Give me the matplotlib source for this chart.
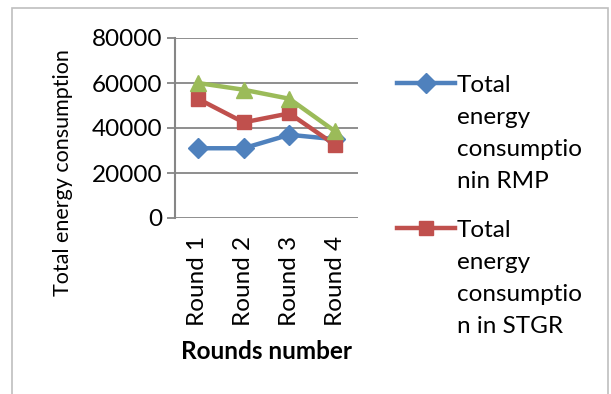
import matplotlib.pyplot as plt
from matplotlib.patches import Rectangle
from matplotlib.lines import Line2D

rounds = ["Round 1", "Round 2", "Round 3", "Round 4"]
rmp = [31000, 31000, 37000, 35000]
stgr = [53000, 42500, 46500, 32500]
third = [60000, 57000, 53000, 38500]
yticks = [0, 20000, 40000, 60000, 80000]
legend_rmp = ["Total", "energy", "consumptio", "nin RMP"]
legend_stgr = ["Total", "energy", "consumptio", "n in STGR"]

plt.rcParams['font.family'] = ['Lato', 'DejaVu Sans']

W, H = 611, 394
fig = plt.figure(figsize=(W / 100, H / 100), dpi=100)
fig.patches.append(Rectangle((12 / W, -0.1), 596 / W, 1.1 - 8 / H,
                             transform=fig.transFigure, fill=False,
                             edgecolor='#bfbfbf', linewidth=1.2))

ax = fig.add_axes([175 / W, 176 / H, 183 / W, 180 / H])
x = range(len(rounds))
ax.plot(x, rmp, color='#4F81BD', lw=3.2, marker='D', ms=10, zorder=3)
ax.plot(x, stgr, color='#C0504D', lw=3.2, marker='s', ms=10, zorder=4)
ax.plot(x, third, color='#9BBB59', lw=3.2, marker='^', ms=11, zorder=5)

ax.set_xlim(-0.5, len(rounds) - 0.5)
ax.set_ylim(0, 80000)
ax.set_yticks(yticks)
ax.set_yticklabels([str(v) for v in yticks], fontsize=17.5)
ax.set_xticks(list(x))
ax.set_xticklabels(rounds, rotation=90, fontsize=17.5)
ax.grid(axis='y', color='#868686', lw=1.3)
ax.set_axisbelow(True)
for s in ['top', 'right', 'bottom']:
    ax.spines[s].set_visible(False)
ax.spines['left'].set_color('#868686')
ax.spines['left'].set_linewidth(1.5)
ax.tick_params(axis='y', length=6, color='#868686', width=1.3, pad=3)
ax.tick_params(axis='x', length=0, pad=13)

ax.set_ylabel('Total energy consumption', fontsize=15.5)
ax.yaxis.set_label_coords(-0.56, 0.25)
ax.set_xlabel('Rounds number', fontsize=17.5, fontweight='bold', labelpad=10)

# legend drawn by hand so the key sits on the first text line, as in Excel
entries = [('#4F81BD', 'D', 10, legend_rmp, 92),
           ('#C0504D', 's', 10, legend_stgr, 237)]
for color, mk, ms, lines, base in entries:
    yk = 1 - (base - 9) / H
    fig.add_artist(Line2D([397 / W, 426 / W, 455 / W], [yk, yk, yk],
                          transform=fig.transFigure, color=color, lw=3.2,
                          marker=mk, ms=ms, markevery=[1]))
    for i, s in enumerate(lines):
        fig.text(457 / W, 1 - (base + 32 * i) / H, s, fontsize=17.5,
                 va='baseline', ha='left')

fig.savefig('out.png', dpi=100)
